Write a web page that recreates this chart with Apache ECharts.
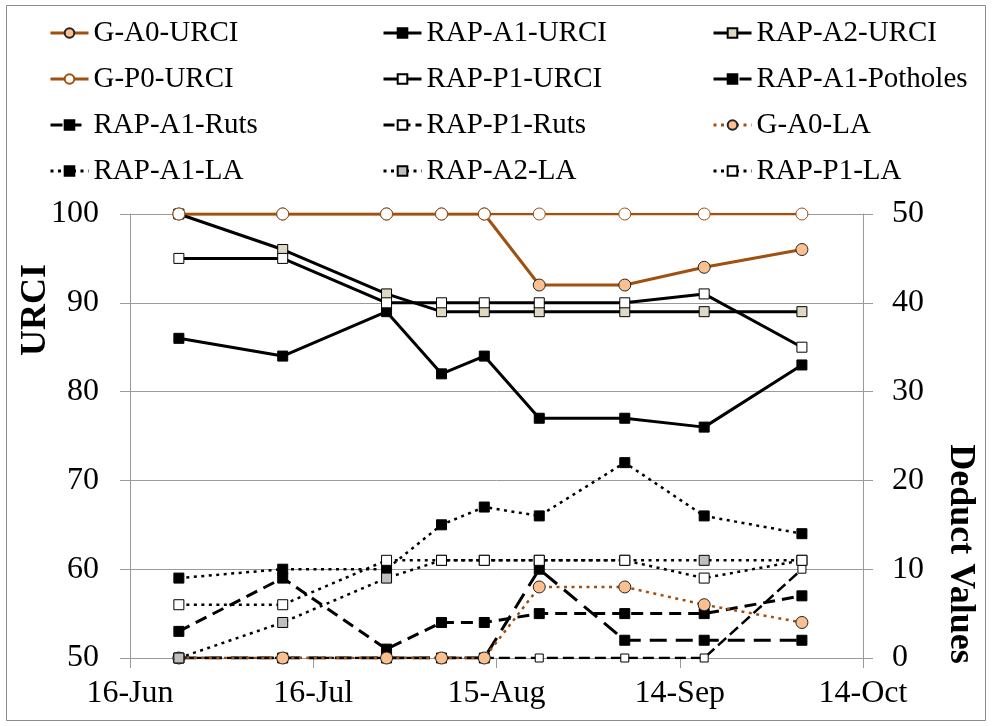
<!DOCTYPE html>
<html>
<head>
<meta charset="utf-8">
<script src="https://cdn.jsdelivr.net/npm/echarts@6/dist/echarts.min.js"></script>
<style>
  html, body { margin: 0; padding: 0; background: #fff; }
  #chart { width: 992px; height: 726px; }
</style>
</head>
<body>
<div id="chart"></div>
<script>
  // survey dates and the first tick date of the x axis
  const startDate = '2013-06-16'
  const surveyDates = ['2013-06-24', '2013-07-11', '2013-07-28', '2013-08-06', '2013-08-13',
                       '2013-08-22', '2013-09-05', '2013-09-18', '2013-10-04']
  const monthNames = ['Jan', 'Feb', 'Mar', 'Apr', 'May', 'Jun', 'Jul', 'Aug', 'Sep', 'Oct', 'Nov', 'Dec']

  // URCI (left axis)
  const gA0Urci = [100, 100, 100, 100, 100, 92, 92, 94, 96]
  const rapA1Urci = [86, 84, 89, 82, 84, 77, 77, 76, 83]
  const rapA2Urci = [100, 96, 91, 89, 89, 89, 89, 89, 89]
  const gP0Urci = [100, 100, 100, 100, 100, 100, 100, 100, 100]
  const rapP1Urci = [95, 95, 90, 90, 90, 90, 90, 91, 85]
  // deduct values (right axis)
  const rapA1Potholes = [0, 0, 0, 0, 0, 10, 2, 2, 2]
  const rapA1Ruts = [3, 9, 1, 4, 4, 5, 5, 5, 7]
  const rapP1Ruts = [0, 0, 0, 0, 0, 0, 0, 0, 10]
  const gA0La = [0, 0, 0, 0, 0, 8, 8, 6, 4]
  const rapA1La = [9, 10, 10, 15, 17, 16, 22, 16, 14]
  const rapA2La = [0, 4, 9, 11, 11, 11, 11, 11, 11]
  const rapP1La = [6, 6, 11, 11, 11, 11, 11, 9, 11]

  const DAY = 86400000
  const t0 = Date.parse(startDate)
  const dayOffsets = surveyDates.map(d => (Date.parse(d) - t0) / DAY)

  const FONT = 'Liberation Serif'
  const GRAY = '#9a9a9a'
  const BROWN = '#a0500f'
  const PEACH = '#fac090'
  const BEIGE = '#ddd9c3'
  const SILVER = '#bfbfbf'

  const DOT = [3, 4.5]
  const LONG_DASH = [17, 9]
  const DASH = [12, 7]
  const SHORT_DASH = [11, 5]

  function series(name, values, axis, color, type, width, symbol, size, fill, border) {
    return {
      name: name,
      type: 'line',
      yAxisIndex: axis,
      data: values.map((v, i) => [dayOffsets[i], v]),
      symbol: symbol,
      symbolSize: size,
      showAllSymbol: true,
      lineStyle: { color: color, width: width, type: type },
      itemStyle: { color: fill, borderColor: border, borderWidth: 1 }
    }
  }

  const chart = echarts.init(document.getElementById('chart'))

  const legendBase = {
    orient: 'vertical',
    top: 18,
    padding: 0,
    itemWidth: 38,
    itemHeight: 12,
    itemGap: 16,
    selectedMode: false,
    lineStyle: { width: 3 },
    textStyle: { fontFamily: FONT, fontSize: 29, color: '#000', lineHeight: 30 }
  }

  const option = {
    animation: false,
    backgroundColor: '#fff',
    legend: [
      Object.assign({}, legendBase, { left: 49, data: ['G-A0-URCI', 'G-P0-URCI', 'RAP-A1-Ruts', 'RAP-A1-LA'] }),
      Object.assign({}, legendBase, { left: 382, data: ['RAP-A1-URCI', 'RAP-P1-URCI', 'RAP-P1-Ruts', 'RAP-A2-LA'] }),
      Object.assign({}, legendBase, { left: 712, data: ['RAP-A2-URCI', 'RAP-A1-Potholes', 'G-A0-LA', 'RAP-P1-LA'] })
    ],
    grid: { left: 130, right: 129, top: 214, bottom: 68 },
    xAxis: {
      type: 'value',
      min: 0,
      max: 120,
      interval: 30,
      axisLine: { onZero: false, lineStyle: { color: GRAY, width: 1 } },
      axisTick: { show: true, length: 10, lineStyle: { color: GRAY } },
      axisLabel: {
        color: '#000', fontFamily: FONT, fontSize: 32, margin: 20,
        formatter: v => {
          const d = new Date(t0 + v * DAY)
          return d.getUTCDate() + '-' + monthNames[d.getUTCMonth()]
        }
      },
      splitLine: { show: false }
    },
    yAxis: [{
      type: 'value',
      min: 50,
      max: 100,
      interval: 10,
      axisLine: { show: true, lineStyle: { color: GRAY, width: 1 } },
      axisTick: { show: true, length: 10, lineStyle: { color: GRAY } },
      axisLabel: { color: '#000', fontFamily: FONT, fontSize: 32, margin: 31 },
      splitLine: { lineStyle: { color: GRAY, width: 1 } }
    }, {
      type: 'value',
      position: 'right',
      min: 0,
      max: 50,
      interval: 10,
      axisLine: { show: true, lineStyle: { color: GRAY, width: 1 } },
      axisTick: { show: true, length: 10, lineStyle: { color: GRAY } },
      axisLabel: { color: '#000', fontFamily: FONT, fontSize: 32, margin: 29 },
      splitLine: { show: false }
    }],
    graphic: [{
      type: 'rect',
      shape: { x: 6.5, y: 5.5, width: 979, height: 715 },
      style: { fill: 'none', stroke: '#8c8c8c', lineWidth: 1 },
      silent: true
    }, {
      type: 'text',
      x: 36,
      y: 310,
      rotation: Math.PI / 2,
      style: { text: 'URCI', fontFamily: FONT, fontWeight: 'bold', fontSize: 36, fill: '#000', align: 'center', verticalAlign: 'middle' }
    }, {
      type: 'text',
      x: 960,
      y: 554,
      rotation: -Math.PI / 2,
      style: { text: 'Deduct Values', fontFamily: FONT, fontWeight: 'bold', fontSize: 36, fill: '#000', align: 'center', verticalAlign: 'middle' }
    }],
    series: [
      series('G-A0-URCI', gA0Urci, 0, BROWN, 'solid', 3, 'circle', 12, PEACH, '#222'),
      series('RAP-A1-URCI', rapA1Urci, 0, '#000', 'solid', 3, 'rect', 10, '#000', '#000'),
      series('RAP-A2-URCI', rapA2Urci, 0, '#000', 'solid', 3, 'rect', 10, BEIGE, '#000'),
      series('G-P0-URCI', gP0Urci, 0, BROWN, 'solid', 2.5, 'circle', 12, '#fff', BROWN),
      series('RAP-P1-URCI', rapP1Urci, 0, '#000', 'solid', 3, 'rect', 10, '#fff', '#000'),
      series('RAP-A1-Potholes', rapA1Potholes, 1, '#000', LONG_DASH, 3, 'rect', 10, '#000', '#000'),
      series('RAP-A1-Ruts', rapA1Ruts, 1, '#000', DASH, 3, 'rect', 10, '#000', '#000'),
      series('RAP-P1-Ruts', rapP1Ruts, 1, '#000', SHORT_DASH, 2.5, 'rect', 8, '#fff', '#000'),
      series('G-A0-LA', gA0La, 1, BROWN, DOT, 2.5, 'circle', 12, PEACH, '#222'),
      series('RAP-A1-LA', rapA1La, 1, '#000', DOT, 2.5, 'rect', 10, '#000', '#000'),
      series('RAP-A2-LA', rapA2La, 1, '#000', DOT, 2.5, 'rect', 10, SILVER, '#000'),
      series('RAP-P1-LA', rapP1La, 1, '#000', DOT, 2.5, 'rect', 10, '#fff', '#000')
    ]
  }

  chart.setOption(option)
</script>
</body>
</html>
